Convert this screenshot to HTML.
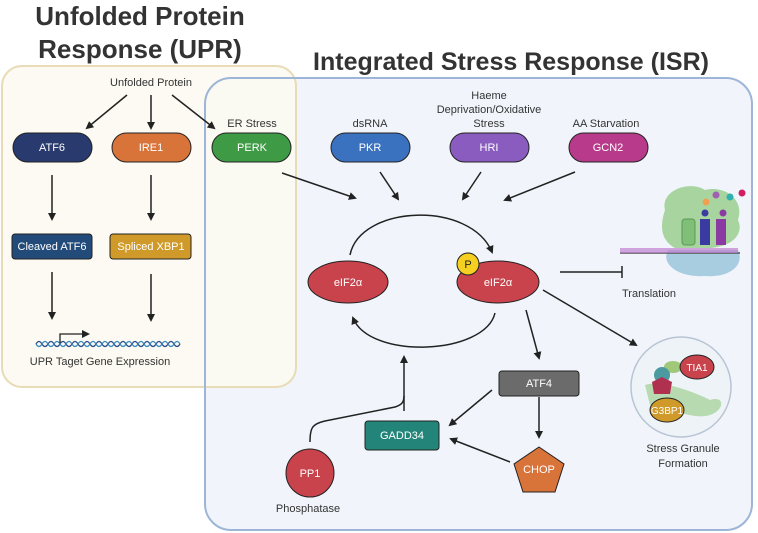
<!DOCTYPE html>
<html><head><meta charset="utf-8"><style>
html,body{margin:0;padding:0;background:#fff;width:758px;height:533px;overflow:hidden}
svg{display:block}
text{font-family:"Liberation Sans",sans-serif}
</style></head><body>
<svg width="758" height="533" viewBox="0 0 758 533" xmlns="http://www.w3.org/2000/svg">
<defs>
<marker id="ah" markerWidth="8" markerHeight="8" refX="6" refY="4" orient="auto" markerUnits="userSpaceOnUse"><path d="M0,0 L8,4 L0,8 Z" fill="#222"/></marker>
</defs>
<rect x="205" y="78" width="547" height="452" rx="26" fill="#f1f5fb"/>
<rect x="2" y="66" width="294" height="321" rx="20" fill="#fcfaf1" fill-opacity="0.92" stroke="#e8dcb6" stroke-width="2"/>
<rect x="205" y="78" width="547" height="452" rx="26" fill="none" stroke="#9db5d6" stroke-width="2"/>
<text x="140" y="25" font-size="26" font-weight="bold" text-anchor="middle" fill="#333">Unfolded Protein</text>
<text x="140" y="58" font-size="26" font-weight="bold" text-anchor="middle" fill="#333">Response (UPR)</text>
<text x="511" y="70" font-size="25" font-weight="bold" text-anchor="middle" fill="#333">Integrated Stress Response (ISR)</text>
<g font-size="11" fill="#333" text-anchor="middle">
<text x="151" y="86">Unfolded Protein</text>
<text x="252" y="127">ER Stress</text>
<text x="370" y="127">dsRNA</text>
<text x="489" y="99">Haeme</text>
<text x="489" y="113">Deprivation/Oxidative</text>
<text x="489" y="127">Stress</text>
<text x="606" y="127">AA Starvation</text>
<text x="100" y="365">UPR Taget Gene Expression</text>
<text x="649" y="297">Translation</text>
<text x="683" y="452">Stress Granule</text>
<text x="683" y="467">Formation</text>
<text x="308" y="512">Phosphatase</text>
</g>
<g stroke="#222" stroke-width="1.5" fill="none" marker-end="url(#ah)">
<line x1="127" y1="95" x2="87" y2="128"/>
<line x1="151" y1="95" x2="151" y2="128"/>
<line x1="172" y1="95" x2="214" y2="128"/>
<line x1="52" y1="175" x2="52" y2="219"/>
<line x1="151" y1="175" x2="151" y2="219"/>
<line x1="52" y1="272" x2="52" y2="318"/>
<line x1="151" y1="274" x2="151" y2="320"/>
<line x1="282" y1="173" x2="355" y2="198"/>
<line x1="380" y1="172" x2="398" y2="199"/>
<line x1="481" y1="172" x2="463" y2="199"/>
<line x1="575" y1="172" x2="505" y2="200"/>
<path d="M350,255 C360,205 470,200 492,252"/>
<path d="M495,313 C485,355 370,360 353,318"/>
<line x1="543" y1="290" x2="636" y2="345"/>
<line x1="526" y1="310" x2="539" y2="358"/>
<line x1="539" y1="397" x2="539" y2="437"/>
<line x1="492" y1="390" x2="450" y2="425"/>
<line x1="510" y1="462" x2="451" y2="439"/>
<line x1="404" y1="411" x2="404" y2="357"/>
<path d="M310,442 C310,428 312,424 325,421 L395,407 C401,405 404,403 404,396" marker-end="none"/>
</g>
<line x1="560" y1="272" x2="622" y2="272" stroke="#222" stroke-width="1.5"/>
<line x1="622" y1="266" x2="622" y2="278" stroke="#222" stroke-width="1.5"/>
<g stroke="#222" stroke-width="1">
<rect x="13" y="133" width="79" height="29" rx="14.5" fill="#283a6e"/>
<rect x="112" y="133" width="79" height="29" rx="14.5" fill="#d8733a"/>
<rect x="212" y="133" width="79" height="29" rx="14.5" fill="#3e9a45"/>
<rect x="331" y="133" width="79" height="29" rx="14.5" fill="#3a72c0"/>
<rect x="450" y="133" width="79" height="29" rx="14.5" fill="#8a5cc0"/>
<rect x="569" y="133" width="79" height="29" rx="14.5" fill="#b83a8a"/>
<rect x="12" y="234" width="80" height="25" rx="3" fill="#234b7a"/>
<rect x="110" y="234" width="81" height="25" rx="3" fill="#d09a2a"/>
<ellipse cx="348" cy="282" rx="40" ry="21" fill="#c8434b"/>
<ellipse cx="498" cy="282" rx="41" ry="21" fill="#c8434b"/>
<circle cx="468" cy="264" r="11" fill="#f5d020"/>
<rect x="499" y="371" width="80" height="25" rx="3" fill="#6b6b6b"/>
<rect x="365" y="421" width="74" height="29" rx="3" fill="#23857a"/>
<polygon points="539,447 564,464 555,492 523,492 514,464" fill="#d8733a"/>
<circle cx="310" cy="473" r="24" fill="#c8434b"/>
</g>
<g font-size="11" fill="#fff" text-anchor="middle">
<text x="52" y="151">ATF6</text>
<text x="151" y="151">IRE1</text>
<text x="252" y="151">PERK</text>
<text x="370" y="151">PKR</text>
<text x="489" y="151">HRI</text>
<text x="608" y="151">GCN2</text>
<text x="52" y="250">Cleaved ATF6</text>
<text x="151" y="250">Spliced XBP1</text>
<text x="348" y="286">eIF2α</text>
<text x="498" y="286">eIF2α</text>
<text x="539" y="387">ATF4</text>
<text x="402" y="439">GADD34</text>
<text x="539" y="473">CHOP</text>
<text x="310" y="477">PP1</text>
</g>
<text x="468" y="268" font-size="11" text-anchor="middle" fill="#222">P</text>
<path d="M36,344 q3,-5 6,0 t6,0 t6,0 t6,0 t6,0 t6,0 t6,0 t6,0 t6,0 t6,0 t6,0 t6,0 t6,0 t6,0 t6,0 t6,0 t6,0 t6,0 t6,0 t6,0 t6,0 t6,0 t6,0 t6,0" stroke="#2a4a8a" stroke-width="1.3" fill="none"/>
<path d="M36,344 q3,5 6,0 t6,0 t6,0 t6,0 t6,0 t6,0 t6,0 t6,0 t6,0 t6,0 t6,0 t6,0 t6,0 t6,0 t6,0 t6,0 t6,0 t6,0 t6,0 t6,0 t6,0 t6,0 t6,0 t6,0" stroke="#3a8ac0" stroke-width="1.3" fill="none"/>
<path d="M60,343 V334 H88" stroke="#222" stroke-width="1.3" fill="none" marker-end="url(#ah)"/>
<path d="M665,210 C660,190 690,180 705,190 C725,185 745,200 738,220 C745,235 730,250 700,248 L675,248 C660,240 660,225 665,210 Z" fill="#a8d4a0"/>
<path d="M668,250 C660,265 680,278 705,276 C730,278 745,265 738,250 Z" fill="#a9cde0"/>
<rect x="682" y="219" width="13" height="26" rx="3" fill="#7fbf78" stroke="#5a9a55"/>
<rect x="700" y="219" width="10" height="26" fill="#3a3aa0"/>
<rect x="716" y="219" width="10" height="26" fill="#8a3aa0"/>
<line x1="620" y1="253" x2="740" y2="253" stroke="#555" stroke-width="1.5"/>
<rect x="620" y="248" width="118" height="5" fill="#c080d0" opacity="0.7"/>
<circle cx="705" cy="213" r="3.5" fill="#3a3aa0"/>
<circle cx="723" cy="213" r="3.5" fill="#8a3aa0"/>
<circle cx="706" cy="202" r="3.5" fill="#f0a050"/>
<circle cx="716" cy="195" r="3.5" fill="#a060b0"/>
<circle cx="730" cy="197" r="3.5" fill="#30b0b0"/>
<circle cx="742" cy="193" r="3.5" fill="#d02060"/>
<circle cx="681" cy="387" r="50" fill="#eef3f8" stroke="#b8c4d4" stroke-width="1.5"/>
<path d="M645,385 C660,380 690,390 710,400 C725,395 725,410 710,415 C695,420 675,410 650,405 Z" fill="#b8dab0"/>
<path d="M664,367 c0,-8 18,-8 18,0 c0,8 -18,8 -18,0 z" fill="#a0c878"/>
<circle cx="662" cy="375" r="8" fill="#4a9aa0"/>
<path d="M652,382 l10,-5 l10,5 l-2,12 l-16,0 z" fill="#b03050"/>
<ellipse cx="697" cy="367" rx="17" ry="12" fill="#c8434b" stroke="#222"/>
<text x="697" y="371" font-size="10" fill="#fff" text-anchor="middle">TIA1</text>
<ellipse cx="667" cy="410" rx="17" ry="12" fill="#d09a2a" stroke="#222"/>
<text x="667" y="414" font-size="10" fill="#fff" text-anchor="middle">G3BP1</text>
</svg>
</body></html>
